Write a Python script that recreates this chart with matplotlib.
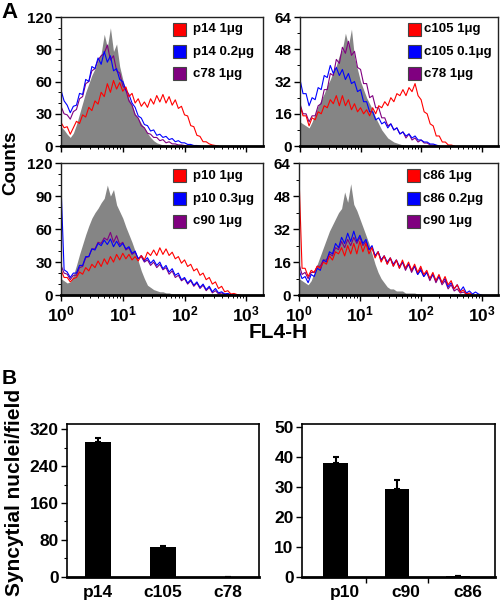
import numpy as np
import matplotlib
matplotlib.use("Agg")
import matplotlib.pyplot as plt
from matplotlib.patches import Rectangle
from matplotlib.ticker import LogLocator, MultipleLocator, FuncFormatter, NullFormatter

# ---------------- data (histograms: one value per 0.05 decade of FL4-H, from 10^0) ----------------
LOG_STEP = 0.05

TL_GRAY = [18, 15, 11, 8, 12, 20, 30, 40, 50, 58, 66, 72, 80, 86, 104, 92, 110, 88, 95, 74,
           62, 52, 44, 38, 30, 26, 21, 17, 12, 8, 5, 3, 2, 1, 1, 0.5, 0]
TL_RED = [22, 17, 18, 11, 17, 23, 21, 29, 27, 36, 33, 42, 39, 50, 46, 58, 50, 61, 53, 59,
          51, 55, 46, 49, 40, 44, 37, 41, 36, 44, 39, 47, 41, 48, 40, 46, 38, 43, 35, 37,
          29, 28, 19, 18, 10, 9, 4, 4, 2, 1, 0.5, 0]
TL_BLUE = [52, 42, 38, 31, 37, 38, 49, 48, 62, 60, 74, 72, 82, 76, 88, 78, 84, 70, 72, 62,
           60, 52, 48, 40, 36, 28, 26, 20, 19, 14, 15, 10, 11, 8, 9, 6, 7, 4, 5, 3,
           3, 1.5, 1.5, 0.5, 0.5, 0]
TL_PURPLE = [37, 30, 29, 25, 32, 34, 44, 46, 58, 60, 70, 72, 80, 84, 86, 94, 80, 84, 70, 68,
             56, 52, 42, 38, 29, 26, 19, 17, 12, 11, 8, 8, 5, 6, 3, 4, 2, 2, 1, 1, 0.5, 0]
TL_LABELS = ["p14 1\u03bcg", "p14 0.2\u03bcg", "c78 1\u03bcg"]

TR_GRAY = [12, 11, 10, 9, 12, 16, 20, 23, 26, 30, 33, 37, 40, 45, 48, 56, 50, 58, 44, 38,
           32, 28, 24, 21, 18, 14, 11, 8, 6, 4, 3, 2, 1.5, 1, 0.5, 0]
TR_RED = [20, 15, 15, 10, 14, 13, 17, 16, 20, 19, 23, 21, 25, 20, 25, 20, 23, 18, 21, 17,
          19, 16, 18, 15, 19, 16, 20, 19, 22, 20, 24, 22, 26, 25, 28, 25, 29, 27, 31, 25,
          23, 17, 16, 11, 10, 5, 5, 2, 2, 0.5, 0.5, 0]
TR_BLUE = [33, 26, 26, 20, 24, 23, 29, 28, 35, 34, 40, 36, 39, 35, 38, 33, 36, 31, 32, 27,
           28, 22, 22, 17, 17, 13, 14, 11, 12, 9, 11, 8, 9, 6, 7, 5, 6, 4, 5, 3,
           3, 2, 2, 1, 1, 0.5, 0]
TR_PURPLE = [21, 16, 16, 12, 15, 15, 20, 21, 28, 28, 36, 35, 43, 41, 49, 46, 52, 45, 47, 39,
             38, 31, 31, 24, 25, 19, 19, 14, 14, 10, 11, 8, 9, 6, 7, 4, 6, 3, 4, 2,
             3, 1.5, 1.5, 0.5, 0.5, 0]
TR_LABELS = ["c105 1\u03bcg", "c105 0.1\u03bcg", "c78 1\u03bcg"]

BL_GRAY = [15, 13, 11, 12, 18, 27, 37, 46, 55, 63, 70, 75, 79, 84, 88, 100, 90, 96, 82, 76,
           70, 62, 55, 48, 40, 31, 22, 15, 9, 7, 5, 4, 3, 3, 2, 2, 1, 1, 1, 0.5, 0.5, 0]
BL_RED = [23, 16, 16, 12, 15, 16, 21, 19, 25, 22, 28, 25, 31, 26, 33, 28, 35, 30, 37, 32,
          38, 33, 37, 32, 35, 31, 36, 32, 39, 36, 41, 36, 43, 37, 42, 36, 39, 33, 35, 29,
          32, 26, 28, 22, 24, 18, 20, 14, 16, 10, 12, 6, 8, 3, 4, 1, 1.5, 0.5, 0]
BL_BLUE = [100, 23, 21, 16, 20, 20, 27, 27, 35, 35, 42, 41, 47, 45, 50, 46, 51, 44, 49, 44,
           47, 42, 44, 38, 40, 33, 36, 31, 34, 29, 32, 27, 30, 24, 27, 21, 24, 18, 20, 14,
           16, 11, 14, 9, 12, 7, 10, 5, 8, 3, 6, 2, 3, 1, 1.5, 0.5, 0]
BL_PURPLE = [27, 20, 19, 14, 18, 18, 25, 26, 34, 35, 42, 42, 48, 47, 52, 50, 57, 48, 54, 46,
             48, 41, 43, 37, 39, 33, 35, 30, 32, 27, 30, 25, 28, 23, 25, 19, 22, 16, 18, 13,
             15, 10, 13, 8, 11, 6, 9, 4, 7, 2, 4, 1, 2, 0.5, 1, 0]
BL_LABELS = ["p10 1\u03bcg", "p10 0.3\u03bcg", "c90 1\u03bcg"]

BR_GRAY = [8, 7, 6, 5, 7, 11, 15, 19, 23, 27, 31, 34, 37, 40, 42, 50, 45, 54, 44, 41,
           37, 33, 29, 25, 20, 15, 11, 8, 6, 4, 3, 3, 2, 2, 2, 1, 1, 1, 1, 0.5, 0.5, 0]
BR_RED = [58, 13, 13, 9, 12, 11, 14, 13, 16, 15, 19, 17, 21, 20, 23, 19, 24, 20, 25, 20,
          26, 21, 25, 20, 23, 18, 21, 16, 19, 15, 18, 14, 17, 13, 17, 13, 16, 12, 15, 11,
          14, 10, 12, 8, 11, 7, 10, 6, 9, 5, 7, 3, 5, 1.5, 2.5, 0.5, 1, 0]
BR_BLUE = [12, 8, 9, 6, 10, 9, 13, 12, 17, 16, 21, 20, 25, 23, 28, 25, 30, 26, 31, 26,
           29, 25, 27, 22, 24, 19, 21, 17, 19, 16, 18, 15, 17, 14, 16, 13, 15, 12, 14, 10,
           12, 9, 11, 8, 10, 7, 9, 6, 8, 4, 6, 3, 5, 2, 4, 1, 2, 0.5, 1.5, 0.5, 0]
BR_PURPLE = [15, 10, 11, 8, 11, 11, 14, 14, 17, 17, 20, 19, 23, 22, 26, 23, 27, 24, 28, 25,
             28, 24, 26, 22, 23, 19, 21, 17, 19, 15, 18, 14, 17, 13, 16, 12, 15, 11, 14, 10,
             13, 9, 11, 7, 10, 6, 9, 5, 7, 3, 5, 2, 3, 1, 1.5, 0.5, 0]
BR_LABELS = ["c86 1\u03bcg", "c86 0.2\u03bcg", "c90 1\u03bcg"]

# ---------------- data (bar charts) ----------------
BAR_L_CATS = ["p14", "c105", "c78"]
BAR_L_VALS = [292, 64, 0]
BAR_L_ERR = [8, 3.5, 0]

BAR_R_CATS = ["p10", "c90", "c86"]
BAR_R_VALS = [38, 29.4, 0.2]
BAR_R_ERR = [2, 3, 0]

# ---------------- style ----------------
plt.rcParams['font.family'] = ['Liberation Sans', 'DejaVu Sans']
plt.rcParams['font.weight'] = 'bold'
plt.rcParams['mathtext.fontset'] = 'custom'
plt.rcParams['mathtext.rm'] = 'Liberation Sans:bold'
plt.rcParams['mathtext.it'] = 'Liberation Sans:bold'
plt.rcParams['mathtext.bf'] = 'Liberation Sans:bold'
plt.rcParams['mathtext.default'] = 'rm'

RED, BLUE, PURPLE, GRAY = "#ff0000", "#0000ff", "#800080", "#858585"
XMAX = 10 ** 3.27

fig = plt.figure(figsize=(5, 6.01), dpi=100)


def hist_panel(rect, gray, red, blue, purple, labels, ymax, ystep, yminor, xlabels, leg_x, txt_x):
    ax = fig.add_axes(rect)
    xg = 10 ** (np.arange(len(gray)) * LOG_STEP)
    ax.fill_between(xg, gray, 0, color=GRAY, lw=0)
    for vals, col in [(purple, PURPLE), (blue, BLUE), (red, RED)]:
        x = 10 ** (np.arange(len(vals)) * LOG_STEP)
        ax.plot(x, vals, color=col, lw=0.8)
    ax.set_xscale('log')
    ax.set_xlim(1, XMAX)
    ax.set_ylim(0, ymax)
    ax.xaxis.set_major_locator(LogLocator(base=10, numticks=10))
    ax.xaxis.set_minor_locator(LogLocator(base=10, subs=np.arange(2, 10), numticks=20))
    ax.xaxis.set_minor_formatter(NullFormatter())
    if xlabels:
        ax.xaxis.set_major_formatter(FuncFormatter(lambda v, p: r'$10^{%d}$' % round(np.log10(v))))
    else:
        ax.xaxis.set_major_formatter(NullFormatter())
    ax.yaxis.set_major_locator(MultipleLocator(ystep))
    ax.yaxis.set_minor_locator(MultipleLocator(yminor))
    ax.tick_params(axis='y', which='major', length=4, width=1, labelsize=11, pad=2)
    ax.tick_params(axis='x', which='major', length=4, width=1, labelsize=12.5, pad=3)
    ax.tick_params(axis='both', which='minor', length=2, width=0.7)
    for s in ax.spines.values():
        s.set_linewidth(1)
        s.set_color('#222222')
    ax.spines['bottom'].set_linewidth(2)
    ax.spines['bottom'].set_color('black')
    rows = [0.905, 0.73, 0.56]
    w = 13 / (rect[2] * 500)
    h = 13 / (rect[3] * 601)
    for lab, col, yc in zip(labels, [RED, BLUE, PURPLE], rows):
        ax.add_patch(Rectangle((leg_x, yc - h / 2), w, h, transform=ax.transAxes,
                               facecolor=col, edgecolor='#444444', lw=0.8, zorder=5))
        ax.text(txt_x, yc, lab, transform=ax.transAxes, fontsize=9.5, fontweight='bold',
                va='center', ha='left', zorder=5)
    return ax


hist_panel([0.122, 0.757, 0.404, 0.2146], TL_GRAY, TL_RED, TL_BLUE, TL_PURPLE, TL_LABELS,
           120, 30, 10, False, 0.554, 0.655)
hist_panel([0.600, 0.757, 0.396, 0.2146], TR_GRAY, TR_RED, TR_BLUE, TR_PURPLE, TR_LABELS,
           64, 16, 8, False, 0.545, 0.625)
hist_panel([0.122, 0.509, 0.404, 0.2196], BL_GRAY, BL_RED, BL_BLUE, BL_PURPLE, BL_LABELS,
           120, 30, 10, True, 0.554, 0.655)
hist_panel([0.598, 0.509, 0.398, 0.2196], BR_GRAY, BR_RED, BR_BLUE, BR_PURPLE, BR_LABELS,
           64, 16, 8, True, 0.545, 0.625)


def bar_panel(rect, cats, vals, errs, ymax, ystep, yminor, xlim, label_shift, sep_ticks):
    ax = fig.add_axes(rect)
    pos = np.arange(len(cats))
    ax.bar(pos, vals, width=0.4, color='black', zorder=3)
    up = [e if e > 0 else np.nan for e in errs]
    ax.errorbar(pos, vals, yerr=[np.zeros(len(vals)), np.nan_to_num(up)], fmt='none',
                ecolor='black', elinewidth=1.5, capsize=2.5, capthick=1.5, zorder=4)
    ax.set_xlim(*xlim)
    ax.set_ylim(0, ymax)
    ax.set_xticks(pos + label_shift)
    ax.set_xticklabels(cats)
    ax.tick_params(axis='x', which='major', length=0, labelsize=12.5, pad=6)
    if sep_ticks:
        ax.set_xticks(pos[:-1] + 0.5, minor=True)
        ax.tick_params(axis='x', which='minor', length=4, width=1)
    ax.yaxis.set_major_locator(MultipleLocator(ystep))
    if yminor:
        ax.yaxis.set_minor_locator(MultipleLocator(yminor))
    ax.tick_params(axis='y', which='major', length=4, width=1, labelsize=12.5, pad=2)
    ax.tick_params(axis='y', which='minor', length=2, width=0.8)
    for s in ax.spines.values():
        s.set_linewidth(1.2)
        s.set_color('black')
    ax.spines['bottom'].set_linewidth(2)
    return ax


bar_panel([0.134, 0.040, 0.384, 0.2546], BAR_L_CATS, BAR_L_VALS, BAR_L_ERR,
          331, 80, 40, (-0.477, 2.477), 0.0, False)
bar_panel([0.604, 0.040, 0.386, 0.2546], BAR_R_CATS, BAR_R_VALS, BAR_R_ERR,
          51, 10, None, (-0.55, 2.6), 0.15, True)

# ---------------- figure texts ----------------
fig.text(0.003, 0.98, "A", fontsize=16, fontweight='bold', ha='left', va='center')
fig.text(0.003, 1 - 379 / 601, "B", fontsize=15, fontweight='bold', ha='left', va='center')
fig.text(0.022, 1 - 163 / 601, "Counts", fontsize=13.5, fontweight='bold',
         rotation=90, ha='center', va='center')
fig.text(0.556, 1 - 333 / 601, "FL4-H", fontsize=15, fontweight='bold', ha='center', va='center')
fig.text(0.03, 1 - 492 / 601, "Syncytial nuclei/field", fontsize=15, fontweight='bold',
         rotation=90, ha='center', va='center')

fig.savefig("out.png", dpi=100)
